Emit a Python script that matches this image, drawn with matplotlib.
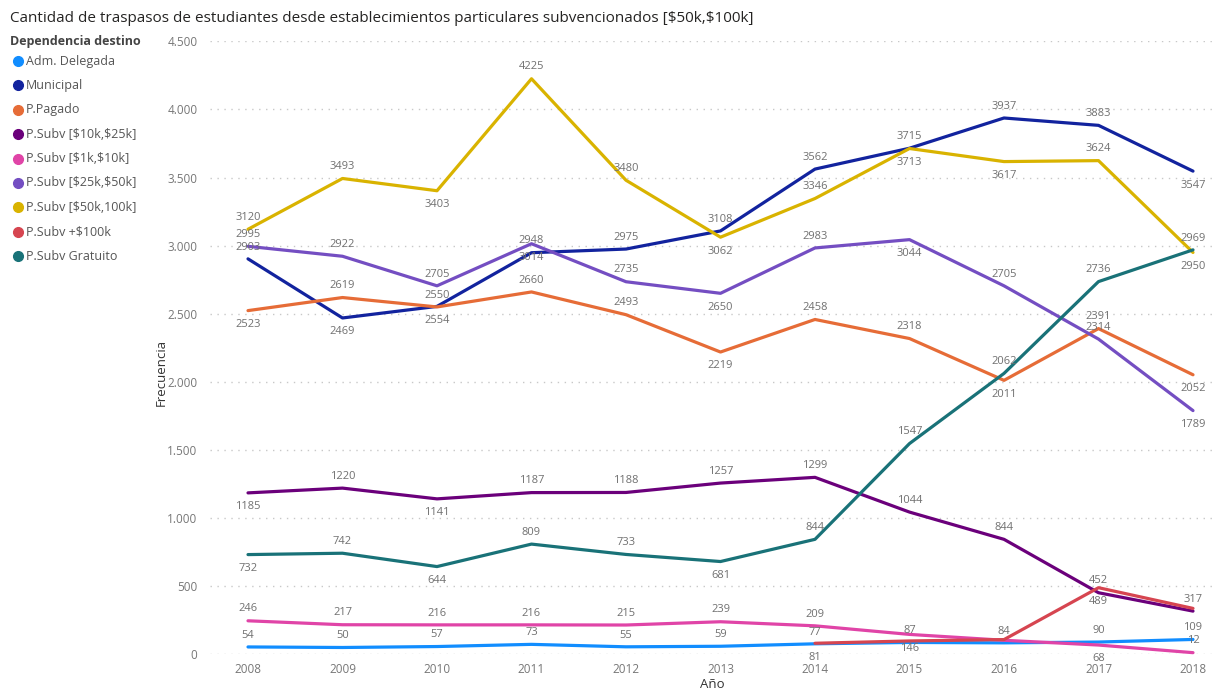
import matplotlib
matplotlib.use("Agg")
import matplotlib.pyplot as plt
from matplotlib.lines import Line2D
from matplotlib.ticker import FuncFormatter, FixedLocator

plt.rcParams['font.family'] = ['Open Sans', 'DejaVu Sans']

years = [2008, 2009, 2010, 2011, 2012, 2013, 2014, 2015, 2016, 2017, 2018]

series_names = [
    "Adm. Delegada",
    "Municipal",
    "P.Pagado",
    "P.Subv [$10k,$25k]",
    "P.Subv [$1k,$10k]",
    "P.Subv [$25k,$50k]",
    "P.Subv [$50k,100k]",
    "P.Subv +$100k",
    "P.Subv Gratuito",
]

adm_delegada = [54, 50, 57, 73, 55, 59, 77, 87, 84, 90, 109]
municipal = [2903, 2469, 2554, 2948, 2975, 3108, 3562, 3715, 3937, 3883, 3547]
p_pagado = [2523, 2619, 2550, 2660, 2493, 2219, 2458, 2318, 2011, 2391, 2052]
subv_10k_25k = [1185, 1220, 1141, 1187, 1188, 1257, 1299, 1044, 844, 452, 317]
subv_1k_10k = [246, 217, 216, 216, 215, 239, 209, 146, 103, 68, 12]
subv_25k_50k = [2995, 2922, 2705, 3014, 2735, 2650, 2983, 3044, 2705, 2314, 1789]
subv_50k_100k = [3120, 3493, 3403, 4225, 3480, 3062, 3346, 3713, 3617, 3624, 2950]
subv_100k_plus = [None, None, None, None, None, None, 81, 98, 108, 489, 337]
subv_gratuito = [732, 742, 644, 809, 733, 681, 844, 1547, 2062, 2736, 2969]

# label placement per point: a = above, b = below, n = no label
label_pos = {
    "Adm. Delegada":      "aaaaaaaaaaa",
    "Municipal":          "abbaaaaaaab",
    "P.Pagado":           "baaaabaabab",
    "P.Subv [$10k,$25k]": "babaaaaaaaa",
    "P.Subv [$1k,$10k]":  "aaaaaaabnba",
    "P.Subv [$25k,$50k]": "aaabababaab",
    "P.Subv [$50k,100k]": "aabaababbab",
    "P.Subv +$100k":      "nnnnnnbnnbn",
    "P.Subv Gratuito":    "babaabaaaaa",
}

colors = ["#118DFF", "#12239E", "#E66C37", "#6B007B", "#E044A7",
          "#744EC2", "#D9B300", "#D64550", "#197278"]

values = [adm_delegada, municipal, p_pagado, subv_10k_25k, subv_1k_10k,
          subv_25k_50k, subv_50k_100k, subv_100k_plus, subv_gratuito]

W, H = 1215, 690
fig = plt.figure(figsize=(W / 100, H / 100), dpi=100)

ax_l, ax_r, ax_t, ax_b = 210, 1215, 41.3, 654.3
ax = fig.add_axes([ax_l / W, 1 - ax_b / H, (ax_r - ax_l) / W, (ax_b - ax_t) / H])
ax.set_ylim(0, 4500)
px_per_year = (1193 - 248) / 10
ax.set_xlim(2008 - (248 - ax_l) / px_per_year, 2018 + (ax_r - 1193) / px_per_year)

for s in ax.spines.values():
    s.set_visible(False)

ax.yaxis.set_major_locator(FixedLocator([0, 500, 1000, 1500, 2000, 2500, 3000, 3500, 4000, 4500]))
ax.yaxis.set_major_formatter(FuncFormatter(lambda v, p: f"{int(v):,}".replace(",", ".")))
ax.set_xticks(years)
ax.tick_params(axis='both', length=0, labelsize=8.5, labelcolor="#777777")
ax.tick_params(axis='y', pad=9)
ax.tick_params(axis='x', pad=6)
ax.grid(axis='y', color="#c8c8c8", linestyle=(0, (1, 4)), linewidth=1)
ax.set_axisbelow(True)

for name, vals, col in zip(series_names, values, colors):
    xs = [y for y, v in zip(years, vals) if v is not None]
    ys = [v for v in vals if v is not None]
    ax.plot(xs, ys, color=col, linewidth=2.3, solid_joinstyle='round',
            solid_capstyle='round', clip_on=False, zorder=3)

for name, vals in zip(series_names, values):
    for y, v, p in zip(years, vals, label_pos[name]):
        if v is None or p == 'n':
            continue
        dy = 8.5 if p == 'a' else -10
        ax.annotate(str(v), (y, v), xytext=(0, dy), textcoords='offset points',
                    ha='center', va='center', fontsize=8, color="#707070", zorder=4)

ax.set_ylabel("Frecuencia", fontsize=9.5, color="#333333")
ax.yaxis.set_label_coords(-(ax_l - 168) / (ax_r - ax_l), 0.46)
ax.set_xlabel("Año", fontsize=9.5, color="#333333", labelpad=2)

fig.text(10 / W, 1 - 18 / H,
         "Cantidad de traspasos de estudiantes desde establecimientos particulares subvencionados [\\$50k,\\$100k]",
         fontsize=11, color="#252423", ha='left', va='center')

fig.text(10 / W, 1 - 41 / H, "Dependencia destino", fontsize=9, fontweight='bold',
         color="#444444", ha='left', va='center')
for i, (name, col) in enumerate(zip(series_names, colors)):
    yy = 1 - (61 + i * 24.4) / H
    fig.add_artist(Line2D([17.5 / W], [yy], transform=fig.transFigure, marker='o',
                          markersize=7, color=col, linestyle='none'))
    fig.text(26 / W, yy, name.replace("$", "\\$"), fontsize=9, color="#555555",
             ha='left', va='center')

fig.savefig("out.png", dpi=100)
